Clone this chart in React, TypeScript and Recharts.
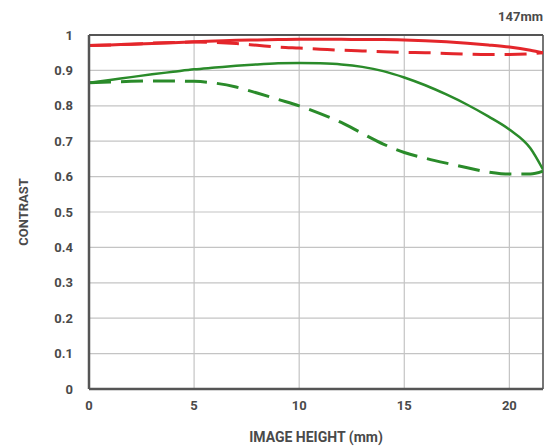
import React from "react";
import { LineChart, Line, XAxis, YAxis, CartesianGrid, ReferenceLine, Label } from "recharts";

const imageHeights = [0, 1, 2, 3, 4, 5, 6, 7, 8, 9, 10, 11, 12, 13, 14, 15, 16, 17, 18, 19, 20, 21, 21.6];
const redSolid = [0.970, 0.972, 0.974, 0.976, 0.978, 0.981, 0.983, 0.985, 0.986, 0.987, 0.988, 0.988, 0.988, 0.987, 0.987, 0.986, 0.984, 0.981, 0.977, 0.972, 0.966, 0.957, 0.950];
const redDashed = [0.970, 0.972, 0.974, 0.977, 0.979, 0.980, 0.979, 0.976, 0.971, 0.966, 0.963, 0.960, 0.957, 0.955, 0.953, 0.951, 0.950, 0.948, 0.946, 0.945, 0.945, 0.947, 0.950];
const greenSolid = [0.865, 0.873, 0.881, 0.889, 0.896, 0.903, 0.908, 0.913, 0.917, 0.920, 0.921, 0.920, 0.917, 0.910, 0.898, 0.880, 0.858, 0.832, 0.803, 0.770, 0.733, 0.680, 0.620];
const greenDashed = [0.865, 0.867, 0.869, 0.870, 0.870, 0.869, 0.864, 0.853, 0.836, 0.818, 0.800, 0.778, 0.753, 0.722, 0.692, 0.668, 0.652, 0.638, 0.625, 0.613, 0.607, 0.607, 0.615];
const xTicks = [0, 5, 10, 15, 20];
const yTicks = [0, 0.1, 0.2, 0.3, 0.4, 0.5, 0.6, 0.7, 0.8, 0.9, 1];
const focalLabel = "147mm";
const xTitle = "IMAGE HEIGHT (mm)";
const yTitle = "CONTRAST";

const data = imageHeights.map((h, i) => ({
  h,
  rs: redSolid[i],
  rd: redDashed[i],
  gs: greenSolid[i],
  gd: greenDashed[i],
}));

const FONT = "Roboto, 'DejaVu Sans', sans-serif";
const RED = "#e4262b";
const GREEN = "#2a8b2a";
const TEXT = "#4a4a4a";

export default function App() {
  return (
    <div style={{ position: "fixed", left: 0, top: 0, width: 545, height: 447, background: "#fff" }}>
      <div style={{ position: "absolute", right: 2, top: 9, fontFamily: FONT, fontSize: 13, fontWeight: 700, color: TEXT }}>
        {focalLabel}
      </div>
      <LineChart width={545} height={447} data={data} margin={{ top: 35, right: 2, bottom: 22, left: 0 }}>
        <CartesianGrid stroke="#c4c4c4" strokeWidth={1.2} />
        <XAxis
          dataKey="h"
          type="number"
          domain={[0, 21.6]}
          ticks={xTicks}
          allowDataOverflow
          axisLine={{ stroke: "#555", strokeWidth: 2.5 }}
          tickLine={false}
          tickSize={0}
          tickMargin={12}
          height={36}
          tick={{ fill: TEXT, fontSize: 13, fontWeight: 700, fontFamily: FONT }}
        >
          <Label value={xTitle} position="insideBottom" offset={-17} fill={TEXT} fontSize={14} fontWeight={700} fontFamily={FONT} />
        </XAxis>
        <YAxis
          type="number"
          domain={[0, 1]}
          ticks={yTicks}
          allowDataOverflow
          axisLine={{ stroke: "#555", strokeWidth: 2.5 }}
          tickLine={false}
          tickSize={0}
          tickMargin={16}
          width={89}
          tickFormatter={(v: number) => String(Math.round(v * 10) / 10)}
          tick={{ fill: TEXT, fontSize: 13, fontWeight: 700, fontFamily: FONT }}
        >
          <Label value={yTitle} angle={-90} position="insideLeft" offset={23} fill={TEXT} fontSize={13} fontWeight={700} fontFamily={FONT} style={{ textAnchor: "middle" }} />
        </YAxis>
        <ReferenceLine y={1} stroke="#555" strokeWidth={2} />
        <ReferenceLine x={21.6} stroke="#555" strokeWidth={1.5} />
        <Line type="monotone" dataKey="rd" stroke={RED} strokeWidth={3} strokeDasharray="22 10" dot={false} isAnimationActive={false} />
        <Line type="monotone" dataKey="gd" stroke={GREEN} strokeWidth={3} strokeDasharray="22 10" dot={false} isAnimationActive={false} />
        <Line type="monotone" dataKey="rs" stroke={RED} strokeWidth={3} dot={false} isAnimationActive={false} />
        <Line type="monotone" dataKey="gs" stroke={GREEN} strokeWidth={2.5} dot={false} isAnimationActive={false} />
      </LineChart>
    </div>
  );
}
